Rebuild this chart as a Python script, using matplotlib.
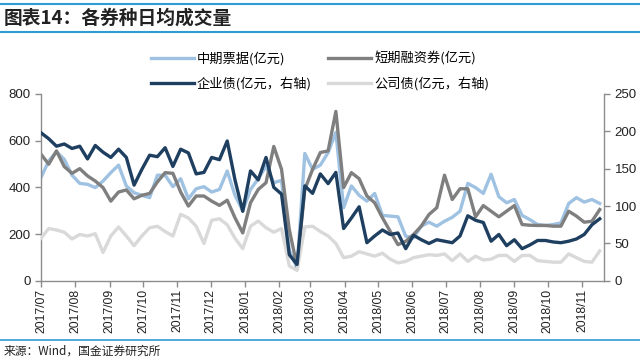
import matplotlib
matplotlib.use("Agg")
import matplotlib.pyplot as plt
import matplotlib.dates as mdates
import pandas as pd

plt.rcParams['font.family'] = ['Liberation Sans', 'Noto Sans CJK SC', 'DejaVu Sans']

# weekly observations, 2017/07 - 2018/11
dates = pd.date_range("2017-07-01", periods=73, freq="7D")

# 中期票据 (亿元, left axis)
mtn = [442, 513, 552, 520, 452, 417, 413, 399, 427, 463,
       495, 406, 377, 366, 356, 452, 452, 403, 437, 351,
       394, 403, 380, 391, 470, 366, 300, 391, 437, 490,
       420, 430, 130, 55, 545, 477, 495, 549, 635, 313,
       406, 366, 341, 374, 280, 277, 274, 191, 184, 234,
       251, 234, 255, 272, 298, 417, 399, 374, 456, 360,
       334, 348, 280, 262, 241, 237, 241, 248, 331, 356,
       337, 348, 331]

# 短期融资券 (亿元, left axis)
cp = [542, 499, 556, 489, 460, 480, 449, 427, 399, 341,
      380, 389, 351, 366, 374, 423, 463, 460, 380, 320,
      363, 363, 341, 323, 345, 270, 205, 334, 391, 420,
      575, 477, 219, 62, 391, 477, 549, 556, 725, 399,
      463, 437, 363, 334, 270, 212, 155, 169, 198, 234,
      284, 313, 452, 348, 394, 394, 274, 322, 298, 274,
      298, 322, 241, 238, 237, 237, 234, 234, 298, 277,
      251, 255, 305]

# 企业债 (亿元, right axis)
ent = [198, 190, 180, 183, 177, 180, 163, 181, 172, 165,
       176, 165, 128, 149, 168, 166, 178, 153, 176, 171,
       143, 145, 165, 162, 187, 135, 93, 147, 135, 165,
       125, 116, 35, 22, 127, 117, 143, 130, 145, 70,
       84, 99, 51, 60, 68, 62, 64, 43, 61, 55,
       50, 55, 53, 51, 60, 87, 81, 78, 53, 62,
       47, 55, 43, 48, 54, 54, 52, 51, 53, 56,
       62, 75, 83]

# 公司债 (亿元, right axis)
corp = [57, 70, 68, 65, 56, 62, 60, 63, 38, 60,
        72, 60, 47, 60, 71, 73, 66, 60, 89, 84,
        73, 50, 81, 83, 75, 57, 43, 73, 80, 71,
        65, 70, 20, 14, 72, 73, 66, 60, 50, 31,
        33, 39, 36, 33, 37, 29, 24, 26, 31, 33,
        35, 34, 36, 27, 36, 26, 33, 28, 29, 34,
        34, 26, 34, 34, 27, 26, 25, 25, 36, 31,
        26, 25, 40]

labels = ['中期票据(亿元)', '短期融资券(亿元)', '企业债(亿元，右轴)', '公司债(亿元，右轴)']
colors = ['#9FC2E2', '#7F7F7F', '#1F3F60', '#D9D9D9']

fig = plt.figure(figsize=(6.4, 3.61), dpi=100)
ax = fig.add_axes([0.064, 0.222, 0.88, 0.518])
ax2 = ax.twinx()

lw = 2.4
l1, = ax.plot(dates, mtn, color=colors[0], lw=lw, label=labels[0])
l2, = ax.plot(dates, cp, color=colors[1], lw=lw, label=labels[1])
l4, = ax2.plot(dates, corp, color=colors[3], lw=lw, label=labels[3], zorder=1)
l3, = ax2.plot(dates, ent, color=colors[2], lw=lw, label=labels[2], zorder=2)

ax.set_ylim(0, 800)
ax.set_yticks([0, 200, 400, 600, 800])
ax2.set_ylim(0, 250)
ax2.set_yticks([0, 50, 100, 150, 200, 250])
ax.set_xlim(pd.Timestamp("2017-07-01"), pd.Timestamp("2018-11-21"))

ax.xaxis.set_major_locator(mdates.MonthLocator())
ax.xaxis.set_major_formatter(mdates.DateFormatter("%Y/%m"))
for lab in ax.get_xticklabels():
    lab.set_rotation(90)

spine_c = '#8C8C8C'
for a in (ax, ax2):
    a.spines['top'].set_visible(False)
    for s in ('left', 'right', 'bottom'):
        a.spines[s].set_color(spine_c)
        a.spines[s].set_linewidth(1.0)
    a.tick_params(colors=spine_c, labelcolor='#222222', labelsize=9.5, length=4, width=1)
ax.tick_params(axis='x', labelsize=8.8, pad=2)
ax.spines['right'].set_visible(False)
ax2.spines['left'].set_visible(False)
ax2.spines['bottom'].set_visible(False)

fig.legend([l1, l3, l2, l4], [labels[0], labels[2], labels[1], labels[3]],
           loc='center', bbox_to_anchor=(0.5, 0.803), ncol=2, frameon=False,
           prop={'family': ['Noto Sans CJK SC'], 'size': 9.5},
           handlelength=3.3, labelspacing=0.85, columnspacing=1.2, handletextpad=0.2)

# title bar and source line
blue = '#2E9BD3'
fig.add_artist(plt.Line2D([0, 1], [1 - 4 / 361, 1 - 4 / 361], color=blue, lw=1.5, transform=fig.transFigure))
fig.add_artist(plt.Line2D([0, 1], [1 - 32 / 361, 1 - 32 / 361], color=blue, lw=1.5, transform=fig.transFigure))
fig.add_artist(plt.Line2D([0, 1], [1 - 340 / 361, 1 - 340 / 361], color=blue, lw=1.2, transform=fig.transFigure))
fig.text(0.006, 1 - 18 / 361, '图表14：各券种日均成交量', fontsize=13.5, fontweight='bold',
         fontstyle='italic', family=['Noto Sans CJK SC', 'DejaVu Sans'], va='center', ha='left', color='#222222')
fig.text(0.006, 1 - 351 / 361, '来源：Wind，国金证券研究所', fontsize=8.5,
         family=['Noto Sans CJK SC', 'DejaVu Sans'], va='center', ha='left', color='#222222')

fig.savefig("out.png", dpi=100)
